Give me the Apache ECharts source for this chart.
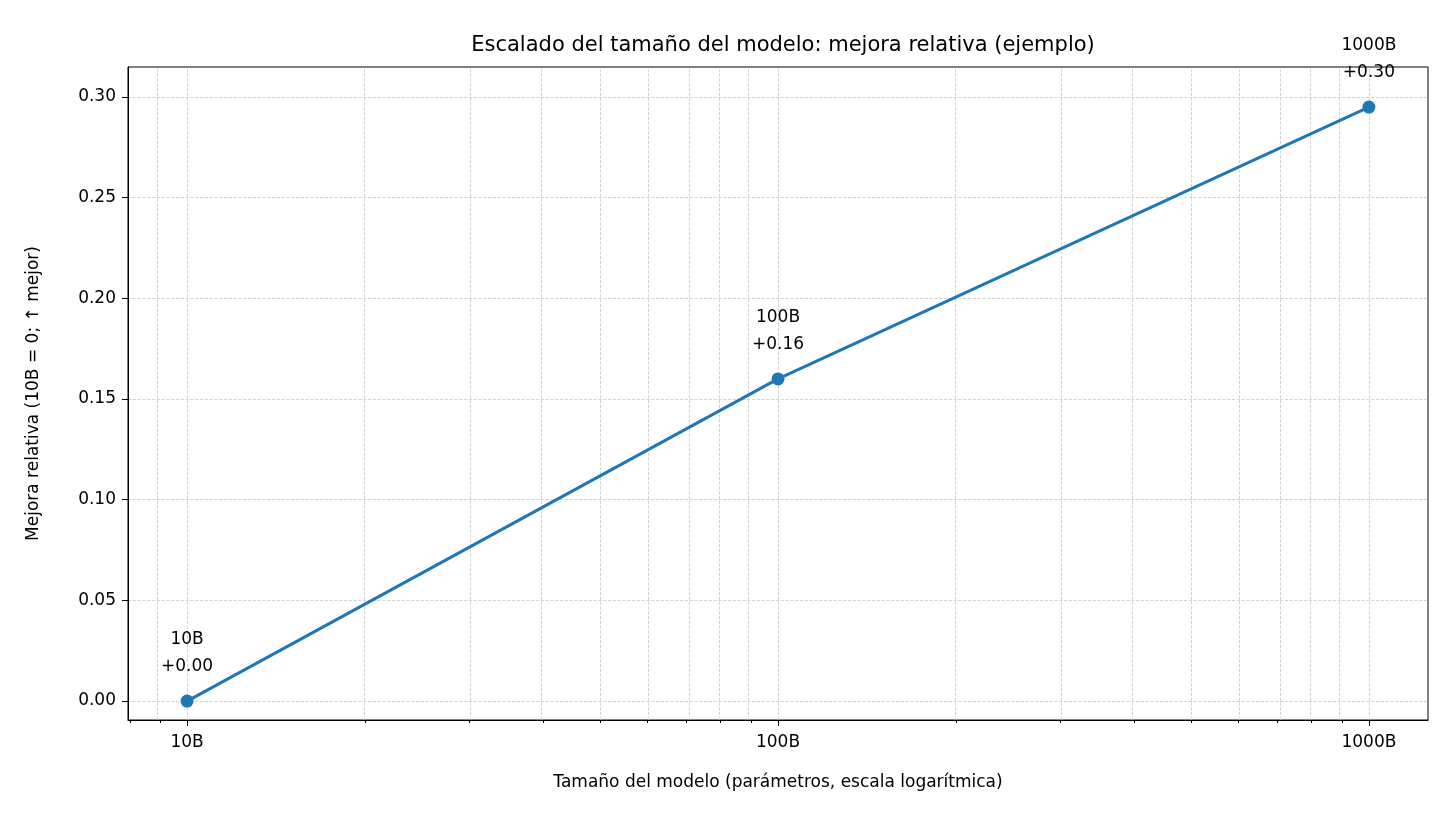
<!DOCTYPE html>
<html>
<head>
<meta charset="utf-8">
<script src="https://cdn.jsdelivr.net/npm/echarts@6/dist/echarts.min.js"></script>
<style>html,body{margin:0;padding:0;background:#fff}#c{width:1456px;height:822px}</style>
</head>
<body>
<div id="c"></div>
<script>
const sizes = [10, 100, 1000];
const sizeLabels = ['10B', '100B', '1000B'];
const gains = [0.0, 0.16, 0.295];
const gainLabels = ['+0.00', '+0.16', '+0.30'];
const yTicks = [0, 0.05, 0.10, 0.15, 0.20, 0.25, 0.30];

const lg = Math.log10;
const minorX = [];
[1, 10, 100, 1000].forEach(d => {
  for (let k = 2; k < 10; k++) {
    const v = lg(d * k);
    if (v > 0.9 && v < 3.1) minorX.push(v);
  }
});
const majorX = sizes.map(lg);
const font = 'DejaVu Sans';
const grid = { type: 'dashed', color: '#c8c8c8', width: 0.8 };

const chart = echarts.init(document.getElementById('c'));
chart.setOption({
  animation: false,
  textStyle: { fontFamily: font },
  title: { text: 'Escalado del tamaño del modelo: mejora relativa (ejemplo)', left: 778, top: 30,
    textAlign: 'center', textStyle: { fontFamily: font, fontSize: 21, fontWeight: 'normal', color: '#000' } },
  grid: { left: 128, right: 28, top: 67, bottom: 102, show: true, borderColor: '#000', borderWidth: 1 },
  xAxis: [{
    type: 'value', min: 0.9, max: 3.1, position: 'bottom',
    name: 'Tamaño del modelo (parámetros, escala logarítmica)', nameLocation: 'middle', nameGap: 54,
    nameTextStyle: { fontSize: 17, color: '#000', fontFamily: font },
    axisLine: { show: true, onZero: false, lineStyle: { color: '#000' } },
    axisTick: { show: true, customValues: majorX, length: 6, lineStyle: { color: '#000' } },
    axisLabel: { customValues: majorX, formatter: v => sizeLabels[majorX.findIndex(m => Math.abs(m - v) < 1e-6)] || '',
      fontSize: 17, color: '#000', margin: 14 },
    splitLine: { show: false }
  }, {
    type: 'value', min: 0.9, max: 3.1, position: 'bottom',
    axisLine: { show: false, onZero: false },
    axisTick: { show: true, customValues: minorX, length: 3, lineStyle: { color: '#000' } },
    axisLabel: { show: false }, splitLine: { show: false }
  }],
  yAxis: {
    type: 'value', min: -0.0094, max: 0.3149,
    name: 'Mejora relativa (10B = 0; ↑ mejor)', nameLocation: 'middle', nameGap: 86,
    nameTextStyle: { fontSize: 17, color: '#000', fontFamily: font },
    axisLine: { show: true, onZero: false, lineStyle: { color: '#000' } },
    axisTick: { show: true, customValues: yTicks, length: 6, lineStyle: { color: '#000' } },
    axisLabel: { customValues: yTicks, formatter: v => v.toFixed(2), fontSize: 17, color: '#000', margin: 12 },
    splitLine: { show: false }
  },
  series: [{
    type: 'line',
    data: sizes.map((s, i) => [lg(s), gains[i]]),
    lineStyle: { color: '#1f77b4', width: 3 },
    itemStyle: { color: '#1f77b4' },
    symbol: 'circle', symbolSize: 13,
    label: { show: true, position: 'top', distance: 14, color: '#000', fontSize: 17, lineHeight: 27,
      align: 'center', formatter: p => sizeLabels[p.dataIndex] + '\n' + gainLabels[p.dataIndex] },
    markLine: {
      silent: true, symbol: 'none', label: { show: false }, lineStyle: grid, z: 0,
      data: majorX.concat(minorX).map(v => ({ xAxis: v })).concat(yTicks.map(v => ({ yAxis: v })))
    },
    z: 3
  }]
});
</script>
</body>
</html>
